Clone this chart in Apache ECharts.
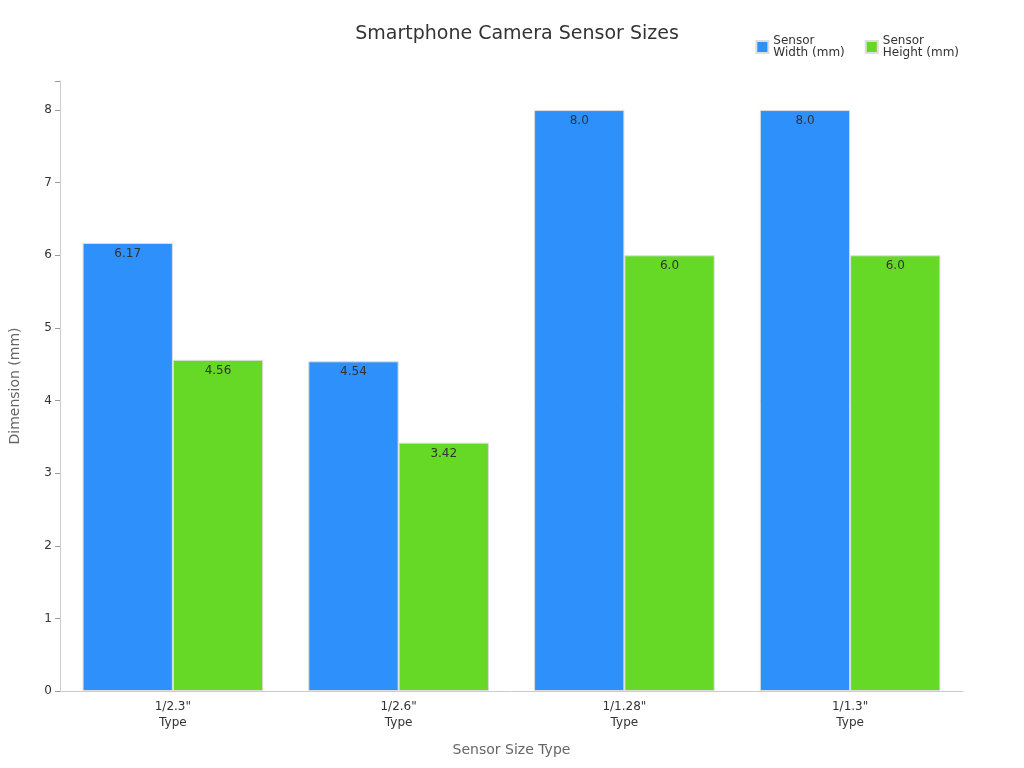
<!DOCTYPE html>
<html><head><meta charset="utf-8">
<script src="https://cdn.jsdelivr.net/npm/echarts@6/dist/echarts.min.js"></script>
<style>html,body{margin:0;padding:0;background:#fff}#c{width:1024px;height:768px}</style>
</head><body><div id="c"></div>
<script>
const categories = ['1/2.3"\nType', '1/2.6"\nType', '1/1.28"\nType', '1/1.3"\nType'];
const widthValues = [6.17, 4.54, 8.0, 8.0];
const heightValues = [4.56, 3.42, 6.0, 6.0];
const widthLabels = ['6.17', '4.54', '8.0', '8.0'];
const heightLabels = ['4.56', '3.42', '6.0', '6.0'];
const chart = echarts.init(document.getElementById('c'));
const font = 'DejaVu Sans';
chart.setOption({
  textStyle: {fontFamily: font},
  title: {text: 'Smartphone Camera Sensor Sizes', left: 512, top: 20, textAlign: 'center',
    textStyle: {fontSize: 19, fontWeight: 'normal', color: '#333', fontFamily: font}},
  legend: {right: 60, top: 30, itemWidth: 12, itemHeight: 12, itemGap: 20, icon: 'rect',
    textStyle: {fontSize: 12, color: '#333', fontFamily: font},
    data: ['Sensor\nWidth (mm)', 'Sensor\nHeight (mm)']},
  grid: {left: 59, right: 61, top: 81, bottom: 77},
  xAxis: {type: 'category', data: categories, name: 'Sensor Size Type', nameLocation: 'middle', nameGap: 52,
    nameTextStyle: {fontSize: 14, color: '#666'},
    axisLine: {lineStyle: {color: '#ccc'}}, axisTick: {show: false},
    axisLabel: {color: '#333', fontSize: 12, lineHeight: 16}},
  yAxis: {type: 'value', min: 0, max: 8.4, interval: 1, name: 'Dimension (mm)', nameLocation: 'middle', nameGap: 38,
    nameTextStyle: {fontSize: 14, color: '#666'},
    axisLine: {show: true, lineStyle: {color: '#ccc'}}, axisTick: {show: true, lineStyle: {color: '#999'}},
    splitLine: {show: false},
    axisLabel: {color: '#333', fontSize: 12, formatter: v => Number.isInteger(v) ? v : ''}},
  series: [
    {name: 'Sensor\nWidth (mm)', type: 'bar', data: widthValues, barGap: '0%', barCategoryGap: '20%',
      itemStyle: {color: '#2e90fa', borderColor: '#ddd', borderWidth: 1},
      label: {show: true, position: 'insideTop', color: '#333', fontSize: 12, formatter: p => widthLabels[p.dataIndex]}},
    {name: 'Sensor\nHeight (mm)', type: 'bar', data: heightValues,
      itemStyle: {color: '#66d926', borderColor: '#ddd', borderWidth: 1},
      label: {show: true, position: 'insideTop', color: '#333', fontSize: 12, formatter: p => heightLabels[p.dataIndex]}}
  ]
});
</script></body></html>
